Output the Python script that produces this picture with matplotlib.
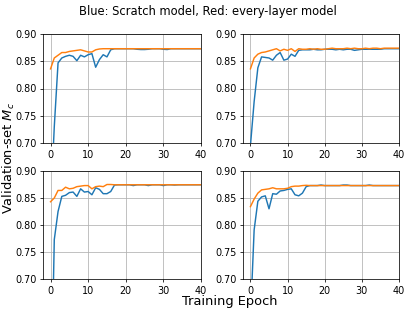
import matplotlib
matplotlib.use("Agg")
import matplotlib.pyplot as plt

epochs = list(range(41))

scratch_1 = [0.58, 0.73, 0.847, 0.856, 0.859, 0.861, 0.859, 0.851, 0.861, 0.858,
             0.862, 0.864, 0.839, 0.853, 0.862, 0.858, 0.871, 0.873, 0.873, 0.873,
             0.873, 0.873, 0.873, 0.872, 0.8715, 0.8715, 0.872, 0.873, 0.873, 0.873,
             0.872, 0.8715, 0.873, 0.873, 0.873, 0.873, 0.873, 0.873, 0.873, 0.873, 0.873]
every_1 = [0.836, 0.856, 0.861, 0.866, 0.866, 0.868, 0.869, 0.870, 0.871, 0.869,
           0.867, 0.867, 0.871, 0.8725, 0.873, 0.873, 0.873, 0.873, 0.873, 0.873,
           0.873, 0.873, 0.873, 0.873, 0.873, 0.873, 0.873, 0.873, 0.873, 0.873,
           0.873, 0.873, 0.873, 0.873, 0.873, 0.873, 0.873, 0.873, 0.873, 0.873, 0.873]

scratch_2 = [0.695, 0.776, 0.838, 0.858, 0.857, 0.856, 0.852, 0.861, 0.866, 0.852,
             0.854, 0.863, 0.859, 0.870, 0.871, 0.871, 0.871, 0.872, 0.871, 0.871,
             0.872, 0.872, 0.872, 0.871, 0.872, 0.871, 0.872, 0.872, 0.870, 0.871,
             0.872, 0.872, 0.872, 0.872, 0.872, 0.872, 0.873, 0.873, 0.873, 0.873, 0.873]
every_2 = [0.836, 0.856, 0.863, 0.866, 0.867, 0.869, 0.871, 0.873, 0.869, 0.872,
           0.870, 0.873, 0.868, 0.873, 0.872, 0.872, 0.873, 0.872, 0.873, 0.872,
           0.872, 0.873, 0.874, 0.873, 0.873, 0.873, 0.874, 0.873, 0.874, 0.873,
           0.873, 0.874, 0.873, 0.874, 0.874, 0.873, 0.874, 0.874, 0.874, 0.874, 0.874]

scratch_3 = [0.42, 0.773, 0.825, 0.853, 0.855, 0.860, 0.861, 0.853, 0.867, 0.861,
             0.862, 0.856, 0.869, 0.866, 0.858, 0.858, 0.862, 0.874, 0.8745, 0.8745,
             0.8745, 0.8745, 0.873, 0.8745, 0.8745, 0.8745, 0.873, 0.8745, 0.8745, 0.8745,
             0.873, 0.8745, 0.8745, 0.874, 0.8745, 0.8745, 0.8745, 0.8745, 0.8745, 0.8745, 0.8745]
every_3 = [0.843, 0.850, 0.864, 0.864, 0.870, 0.867, 0.868, 0.871, 0.872, 0.873,
           0.873, 0.867, 0.871, 0.872, 0.871, 0.875, 0.875, 0.8745, 0.8745, 0.8745,
           0.8745, 0.8745, 0.8745, 0.8745, 0.8745, 0.8745, 0.8745, 0.8745, 0.8745, 0.8745,
           0.8745, 0.8745, 0.8745, 0.8745, 0.8745, 0.8745, 0.8745, 0.8745, 0.8745, 0.8745, 0.8745]

scratch_4 = [0.626, 0.791, 0.844, 0.852, 0.854, 0.830, 0.858, 0.857, 0.863, 0.864,
             0.866, 0.867, 0.856, 0.854, 0.859, 0.871, 0.873, 0.873, 0.873, 0.874,
             0.873, 0.873, 0.873, 0.873, 0.873, 0.874, 0.874, 0.873, 0.873, 0.873,
             0.873, 0.873, 0.874, 0.873, 0.873, 0.873, 0.873, 0.873, 0.873, 0.873, 0.873]
every_4 = [0.834, 0.848, 0.859, 0.865, 0.866, 0.867, 0.869, 0.867, 0.867, 0.867,
           0.868, 0.871, 0.872, 0.872, 0.873, 0.8735, 0.873, 0.873, 0.873, 0.873,
           0.873, 0.873, 0.873, 0.873, 0.873, 0.873, 0.873, 0.873, 0.873, 0.873,
           0.873, 0.873, 0.873, 0.873, 0.873, 0.873, 0.873, 0.873, 0.873, 0.873, 0.873]

series = [(scratch_1, every_1), (scratch_2, every_2), (scratch_3, every_3), (scratch_4, every_4)]
yticks = [0.70, 0.75, 0.80, 0.85, 0.90]
xticks = [0, 10, 20, 30, 40]

dpi = 69.2
W, H = 415, 311
fig = plt.figure(figsize=(W / dpi, H / dpi), dpi=dpi)
boxes = [(43, 34, 201, 143), (243, 34, 399, 143), (43, 171, 201, 279), (243, 171, 399, 279)]
for (s, e), (x0, y0, x1, y1) in zip(series, boxes):
    ax = fig.add_axes([x0 / W, 1 - y1 / H, (x1 - x0) / W, (y1 - y0) / H])
    ax.plot(epochs, s, color="C0")
    ax.plot(epochs, e, color="C1")
    ax.set_xlim(-2, 40)
    ax.set_ylim(0.70, 0.90)
    ax.set_xticks(xticks)
    ax.set_yticks(yticks)
    ax.grid(True)

fig.suptitle("Blue: Scratch model, Red: every-layer model", x=207.5 / W, y=1 - 12 / H, va="center")
fig.supxlabel("Training Epoch", x=230 / W, y=1 - 301 / H, va="center", fontsize=13.5)
fig.supylabel("Validation-set $M_c$", x=8.5 / W, y=1 - 158 / H, ha="center", va="center", fontsize=13.5)
fig.savefig("out.png", dpi=dpi)
